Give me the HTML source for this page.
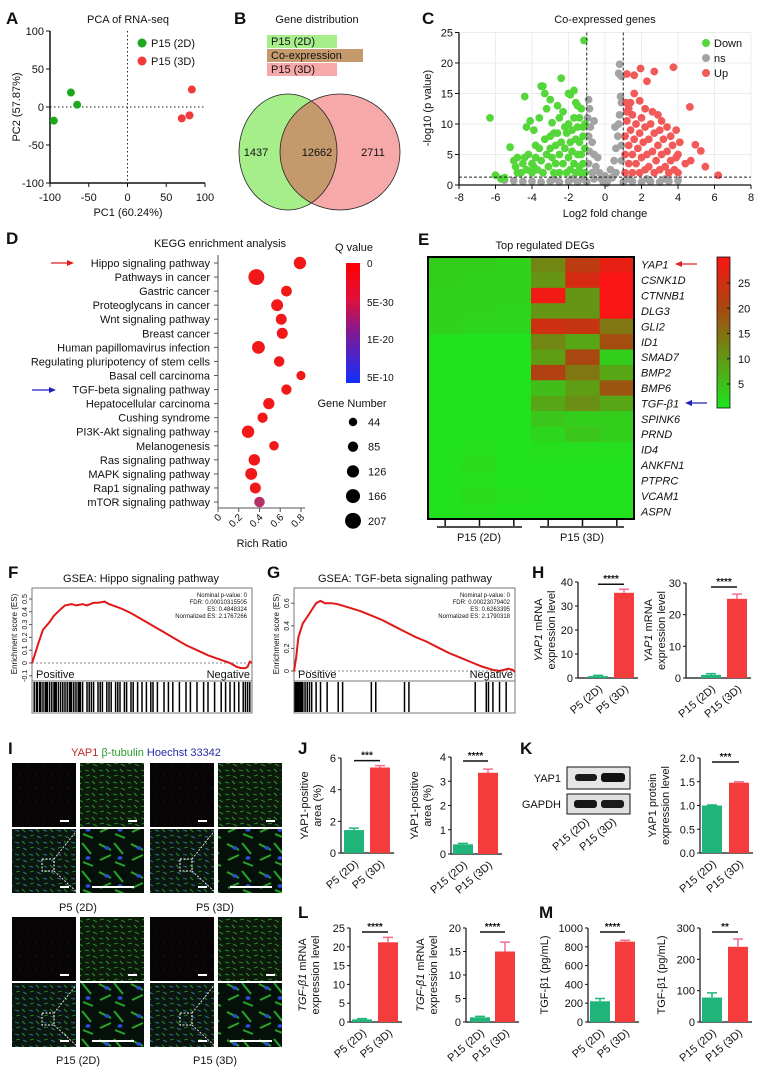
<!DOCTYPE html>
<html><head><meta charset="utf-8"><style>
html,body{margin:0;padding:0;background:#fff}
svg text{font-family:"Liberation Sans",sans-serif;fill:#111}
.lb{font-weight:bold;font-size:17px}
.t{font-size:11px}
.s{font-size:10px}
</style></head><body>
<svg id="fig" width="765" height="1072" xmlns="http://www.w3.org/2000/svg">
<defs>
<pattern id="cellsG" width="14" height="12" patternUnits="userSpaceOnUse">
<rect width="14" height="12" fill="#0c1a0c"/>
<path d="M1 2l4 1M8 1l3 3M2 8l4-1M9 8l4 2" stroke="#2f9f2f" stroke-width="0.9"/>
</pattern>
<pattern id="cellsM" width="14" height="12" patternUnits="userSpaceOnUse">
<rect width="14" height="12" fill="#0b1610"/>
<path d="M1 2l4 1M8 1l3 3M2 8l4-1M9 8l4 2" stroke="#2a922a" stroke-width="0.9"/>
<circle cx="4" cy="3" r="0.8" fill="#3355dd"/><circle cx="11" cy="9" r="0.8" fill="#3355dd"/>
</pattern>
<pattern id="cellsZ" width="32" height="28" patternUnits="userSpaceOnUse">
<rect width="32" height="28" fill="#06100a"/>
<path d="M3 4l12 6M18 3l9 11M4 20l11-5M19 22l10 4" stroke="#27a527" stroke-width="2"/>
<ellipse cx="11" cy="8" rx="2.5" ry="1.8" fill="#2a4fd8"/><ellipse cx="24" cy="18" rx="2.5" ry="1.8" fill="#2a4fd8"/>
</pattern>
<pattern id="dotsR" width="16" height="14" patternUnits="userSpaceOnUse">
<rect width="16" height="14" fill="#060404"/>
<circle cx="4" cy="4" r="0.6" fill="#5a1515"/><circle cx="12" cy="10" r="0.6" fill="#4a1212"/>
</pattern>
<clipPath id="vennClip"><ellipse cx="288" cy="152" rx="49" ry="58"/></clipPath>
<linearGradient id="qgrad" x1="0" y1="0" x2="0" y2="1">
<stop offset="0" stop-color="#ff0000"/><stop offset="0.3" stop-color="#e0103a"/><stop offset="0.6" stop-color="#7a1a9a"/><stop offset="1" stop-color="#1030ff"/>
</linearGradient>
<linearGradient id="hgrad" x1="0" y1="0" x2="0" y2="1">
<stop offset="0" stop-color="#fa1414"/><stop offset="0.33" stop-color="#aa4610"/><stop offset="0.66" stop-color="#649614"/><stop offset="1" stop-color="#1ee61e"/>
</linearGradient>
</defs>

<!-- Panel A -->
<g>
<text class="lb" x="6" y="24">A</text>
<text class="t" x="128" y="23" text-anchor="middle">PCA of RNA-seq</text>
<text class="t" x="128" y="216" text-anchor="middle">PC1 (60.24%)</text>
<text class="t" transform="translate(20,107) rotate(-90)" text-anchor="middle">PC2 (57.87%)</text>
<g id="pcaG"></g>
<circle cx="142" cy="43" r="4.5" fill="#1ea81e"/>
<text class="t" x="151" y="47">P15 (2D)</text>
<circle cx="142" cy="61" r="4.5" fill="#ee3a3a"/>
<text class="t" x="151" y="65">P15 (3D)</text>
</g>

<!-- Panel B -->
<g>
<text class="lb" x="234" y="24">B</text>
<text class="t" x="317" y="23" text-anchor="middle">Gene distribution</text>
<rect x="267" y="35" width="70" height="13" fill="#a6ee8a"/>
<text class="t" x="271" y="45">P15 (2D)</text>
<rect x="267" y="49" width="96" height="13" fill="#c49a6c"/>
<text class="t" x="271" y="59">Co-expression</text>
<rect x="267" y="63" width="70" height="13" fill="#f7a9a9"/>
<text class="t" x="271" y="73">P15 (3D)</text>
<ellipse cx="288" cy="152" rx="49" ry="58" fill="#a6ee8a"/>
<ellipse cx="340" cy="152" rx="60" ry="58" fill="#f7a9a9"/>
<ellipse cx="340" cy="152" rx="60" ry="58" fill="#c49a6c" clip-path="url(#vennClip)"/>
<ellipse cx="288" cy="152" rx="49" ry="58" fill="none" stroke="#222" stroke-width="0.8"/>
<ellipse cx="340" cy="152" rx="60" ry="58" fill="none" stroke="#222" stroke-width="0.8"/>
<text class="t" x="256" y="156" text-anchor="middle">1437</text>
<text class="t" x="317" y="156" text-anchor="middle">12662</text>
<text class="t" x="373" y="156" text-anchor="middle">2711</text>
</g>

<!-- Panel C -->
<g>
<text class="lb" x="422" y="24">C</text>
<text class="t" x="605" y="23" text-anchor="middle">Co-expressed genes</text>
<text class="t" x="605" y="217" text-anchor="middle">Log2 fold change</text>
<text class="t" transform="translate(431,108) rotate(-90)" text-anchor="middle">-log10 (p value)</text>
<g id="volG"></g>
<circle cx="706" cy="43" r="4" fill="#55d63a"/><text class="t" x="714" y="47">Down</text>
<circle cx="706" cy="58" r="4" fill="#a3a3a3"/><text class="t" x="714" y="62">ns</text>
<circle cx="706" cy="73" r="4" fill="#f25a5a"/><text class="t" x="714" y="77">Up</text>
</g>

<!-- Panel D -->
<g>
<text class="lb" x="6" y="244">D</text>
<text class="t" x="220" y="247" text-anchor="middle">KEGG enrichment analysis</text>
<text class="t" x="262" y="547" text-anchor="middle">Rich Ratio</text>
<g id="keggG"></g>
<path d="M51 263H70" stroke="#e02020" stroke-width="1.3"/><path d="M74 263l-7-3v6z" fill="#e02020"/>
<path d="M32 390H52" stroke="#2020c0" stroke-width="1.3"/><path d="M56 390l-7-3v6z" fill="#2020c0"/>
<text class="t" x="354" y="251" text-anchor="middle">Q value</text>
<rect x="346" y="263" width="14" height="120" fill="url(#qgrad)"/>
<text class="s" x="367" y="267">0</text><text class="s" x="367" y="306">5E-30</text><text class="s" x="367" y="343">1E-20</text><text class="s" x="367" y="381">5E-10</text>
<text class="t" x="352" y="407" text-anchor="middle">Gene Number</text>
<g id="gnG"></g>
</g>

<!-- Panel E -->
<g>
<text class="lb" x="418" y="245">E</text>
<text class="t" x="545" y="249" text-anchor="middle">Top regulated DEGs</text>
<g id="heatG"></g>
<rect x="717" y="257" width="13" height="151" fill="url(#hgrad)" stroke="#111" stroke-width="0.8"/>
<g id="hcbG"></g>
<path d="M697 264H679" stroke="#e02020" stroke-width="1.3"/><path d="M675 264l7-3v6z" fill="#e02020"/>
<path d="M707 403H689" stroke="#2020c0" stroke-width="1.3"/><path d="M685 403l7-3v6z" fill="#2020c0"/>
<path d="M437 527H522M540 527H624" stroke="#111" stroke-width="1.5"/>
<text class="t" x="479" y="541" text-anchor="middle">P15 (2D)</text>
<text class="t" x="582" y="541" text-anchor="middle">P15 (3D)</text>
</g>

<!-- Panels F/G -->
<g>
<text class="lb" x="8" y="578">F</text>
<text class="t" x="141" y="582" text-anchor="middle">GSEA: Hippo signaling pathway</text>
<g id="fG"></g>
</g>
<g>
<text class="lb" x="267" y="578">G</text>
<text class="t" x="405" y="582" text-anchor="middle">GSEA: TGF-beta signaling pathway</text>
<g id="gG"></g>
</g>

<text class="lb" x="532" y="578">H</text>
<g id="barsG"></g>

<!-- Panel I -->
<g>
<text class="lb" x="8" y="754">I</text>
<text class="t" x="146" y="756" text-anchor="middle"><tspan style="fill:#c0282a">YAP1</tspan> <tspan style="fill:#2a9a2a">β-tubulin</tspan> <tspan style="fill:#2a2aa8">Hoechst 33342</tspan></text>
<g id="imgG"></g>
<text class="t" x="78" y="911" text-anchor="middle">P5 (2D)</text>
<text class="t" x="215" y="911" text-anchor="middle">P5 (3D)</text>
<text class="t" x="78" y="1064" text-anchor="middle">P15 (2D)</text>
<text class="t" x="215" y="1064" text-anchor="middle">P15 (3D)</text>
</g>

<text class="lb" x="298" y="754">J</text>
<text class="lb" x="520" y="754">K</text>
<text class="lb" x="298" y="918">L</text>
<text class="lb" x="539" y="918">M</text>

<!-- Western blot -->
<g>
<rect x="567" y="767" width="63" height="22" fill="#e6e6e6" stroke="#111" stroke-width="1"/>
<rect x="567" y="794" width="63" height="20" fill="#e0e0e0" stroke="#111" stroke-width="1"/>
<rect x="575" y="774" width="22" height="7" rx="3" fill="#1a1a1a"/><rect x="601" y="773" width="24" height="9" rx="3" fill="#111"/>
<rect x="574" y="800" width="23" height="8" rx="3" fill="#151515"/><rect x="601" y="800" width="23" height="8" rx="3" fill="#1a1a1a"/>
<text class="t" x="561" y="782" text-anchor="end">YAP1</text>
<text class="t" x="561" y="808" text-anchor="end">GAPDH</text>
<text class="t" transform="translate(590,823) rotate(-40)" text-anchor="end">P15 (2D)</text>
<text class="t" transform="translate(617,823) rotate(-40)" text-anchor="end">P15 (3D)</text>
</g>
</svg>
<script>
const NS='http://www.w3.org/2000/svg';
function mk(tag,attrs,parent){const e=document.createElementNS(NS,tag);for(const k in attrs)e.setAttribute(k,attrs[k]);parent.appendChild(e);return e;}
function txt(s,attrs,parent){const e=mk('text',attrs,parent);e.textContent=s;return e;}

/* ---------- Panel A data ---------- */
const pcaGreenX=[-95,-73,-65], pcaGreenY=[-18,19,3];
const pcaRedX=[70,80,83], pcaRedY=[-15,-11,23];
const pcaTicks=[-100,-50,0,50,100];
(function(){
 const g=document.getElementById('pcaG');
 const X=v=>127.5+v*0.775, Y=v=>107-v*0.76;
 let l=mk('path',{d:`M${X(-100)} ${Y(100)}V${Y(-100)}H${X(100)}`,stroke:'#111','stroke-width':1.5,fill:'none'},g);
 
 
 mk('path',{d:`M${X(0)} ${Y(100)}V${Y(-100)}M${X(-100)} ${Y(0)}H${X(100)}`,stroke:'#222','stroke-dasharray':'1.5,2.5',fill:'none'},g);
 pcaTicks.forEach(t=>{
  mk('path',{d:`M${X(t)} ${Y(-100)}v4M${X(-100)} ${Y(t)}h-4`,stroke:'#111'},g);
  const a=txt(String(t),{x:X(t),y:201,'text-anchor':'middle',class:'t'},g);
  
  
  const b=txt(String(t),{x:X(-100)-6,y:Y(t)+4,'text-anchor':'end',class:'t'},g);
  
  
 });
 pcaGreenX.forEach((v,i)=>{const c=mk('circle',{cx:X(v),cy:Y(pcaGreenY[i]),r:4,fill:'#1ea81e'},g);
  
  });
 pcaRedX.forEach((v,i)=>{const c=mk('circle',{cx:X(v),cy:Y(pcaRedY[i]),r:4,fill:'#ee3a3a'},g);
  
  });
})();

/* ---------- Panel C data ---------- */
const volXTicks=[-8,-6,-4,-2,0,2,4,6,8];
const volYTicks=[0,5,10,15,20,25];
const downX=[-6.3,-6.0,-5.7,-5.5,-5.2,-5.0,-4.9,-4.8,-4.4,-4.3,-4.1,-3.9,-3.8,-3.6,-3.5,-3.4,-3.3,-3.2,-3.0,-2.9,-2.8,-2.6,-2.5,-2.4,-2.3,-2.2,-2.0,-1.9,-1.7,-1.6,-1.5,-1.4,-1.3,-1.15,-1.2,
 -4.6,-4.5,-4.3,-4.2,-4.0,-4.0,-3.8,-3.7,-3.6,-3.5,-3.4,-3.3,-3.2,-3.1,-3.0,-3.0,-2.9,-2.8,-2.7,-2.7,-2.6,-2.5,-2.5,-2.4,-2.3,-2.2,-2.1,-2.1,-2.0,-2.0,-1.9,-1.9,-1.8,-1.8,-1.7,-1.7,-1.6,-1.6,-1.5,-1.5,-1.4,-1.4,-1.3,-1.3,-1.2,-1.2,-1.1,-1.1,-1.1,-3.9,-4.4,-4.8];
const downY=[11,1.6,1.0,1.2,6.2,4.0,3.0,4.5,14.5,9.5,10.5,9.0,6.5,11.0,16.2,16.2,15.0,12.5,14.0,10.2,8.5,13.0,11.0,17.5,12.0,9.5,15.0,14.8,15.5,13.5,13.0,11.0,12.5,23.7,9.5,
 2.0,3.5,2.5,5.0,3.5,2.0,4.5,2.5,6.0,4.0,2.0,7.5,5.0,3.0,8.0,6.0,4.5,2.0,6.5,3.5,8.5,5.0,2.0,7.0,3.5,6.0,8.5,2.0,4.5,10.0,7.0,2.5,5.5,9.0,3.5,11.0,7.5,2.0,5.0,9.5,3.0,7.0,5.0,2.0,8.0,3.5,6.0,2.0,10.0,3.0,4.5,2.0];
const nsX=[-0.9,-0.85,-0.95,-0.8,-0.9,-0.7,-0.85,-0.6,-0.9,-0.5,-0.7,-0.3,-0.4,-0.2,0.0,0.2,0.3,0.5,0.6,0.7,0.75,0.8,0.9,0.85,0.9,0.75,0.8,0.9,0.9,0.6,0.4,-0.6,-1.0,-1.5,-2.0,-2.5,-3.0,-3.5,-4.0,-4.5,-5.0,-5.5,1.0,1.5,2.0,2.5,3.0,3.5,4.0,-1.2,-1.8,-2.8,1.3,2.3,3.3,0.1,-0.1,0.55,-0.6];
const nsY=[14.0,12.5,11.0,9.5,8.0,7.0,5.5,5.0,3.5,3.0,2.0,2.0,4.5,1.0,1.5,1.0,2.5,4.0,6.0,8.0,10.0,11.5,13.5,14.5,17.8,18.3,19.8,6.5,4.0,2.0,1.2,1.0,0.5,0.5,0.6,0.5,0.6,0.5,0.6,0.6,0.7,0.8,0.5,0.6,0.5,0.6,0.5,0.6,0.7,1.0,1.0,1.0,1.0,1.0,1.0,0.3,0.5,9.5,10.5];
const upX=[1.2,1.6,1.95,2.3,2.7,3.75,1.15,1.3,1.6,1.9,2.2,2.6,2.9,3.1,3.4,3.6,3.9,4.65,4.1,4.95,4.7,5.25,5.5,6.2,4.4,4.0,
 1.1,1.1,1.1,1.2,1.3,1.3,1.4,1.5,1.5,1.5,1.6,1.7,1.7,1.8,1.9,1.9,2.0,2.0,2.1,2.2,2.2,2.3,2.4,2.4,2.5,2.6,2.7,2.7,2.8,2.9,3.0,3.0,3.1,3.2,3.3,3.4,3.5,3.6,3.7,3.8,3.9,4.0,1.2,1.4];
const upY=[18.2,18.0,19.1,17.0,18.6,19.3,13.5,12.5,15.0,13.8,12.5,12.0,11.5,10.5,9.5,8.0,9.0,12.8,7.0,6.6,4.0,5.6,3.0,1.6,3.5,5.0,
 2.0,5.0,8.0,10.5,3.5,6.5,9.0,2.0,5.0,11.5,7.5,3.5,10.0,6.0,2.0,8.5,4.5,11.0,7.0,2.5,9.5,5.0,3.0,7.5,10.0,5.5,2.0,8.5,4.0,6.5,2.5,9.0,5.0,7.5,3.0,5.5,2.0,4.0,6.5,2.5,4.5,2.0,12.0,13.5];
(function(){
 const g=document.getElementById('volG');
 const X=v=>605+v*18.25, Y=v=>185-v*6.1;
 volYTicks.forEach(t=>{if(t>0)mk('path',{d:`M${X(-8)} ${Y(t)}H${X(8)}`,stroke:'#ececec'},g);});
 volXTicks.forEach(t=>{if(t!==-8)mk('path',{d:`M${X(t)} ${Y(25)}V${Y(0)}`,stroke:'#ececec'},g);});
 const ser=[[nsX,nsY,'#a3a3a3','volcano-point-ns'],[downX,downY,'#55d63a','volcano-point-down'],[upX,upY,'#f25a5a','volcano-point-up']];
 ser.forEach(([xs,ys,c,n])=>xs.forEach((v,i)=>{const p=mk('circle',{cx:X(v),cy:Y(ys[i]),r:3.9,fill:c},g);
  
  }));
 mk('path',{d:`M${X(-1)} ${Y(25)}V${Y(0)}M${X(1)} ${Y(25)}V${Y(0)}M${X(-8)} ${Y(1.3)}H${X(8)}`,stroke:'#222','stroke-dasharray':'3,2',fill:'none'},g);
 const ax=mk('path',{d:`M${X(-8)} ${Y(25)}V${Y(0)}H${X(8)}`,stroke:'#111','stroke-width':1.3,fill:'none'},g);
 
 
 volXTicks.forEach(t=>{mk('path',{d:`M${X(t)} ${Y(0)}v4`,stroke:'#111'},g);
  const a=txt(String(t),{x:X(t),y:201,'text-anchor':'middle',class:'t'},g);
  
  });
 volYTicks.forEach(t=>{mk('path',{d:`M${X(-8)} ${Y(t)}h-4`,stroke:'#111'},g);
  const a=txt(String(t),{x:X(-8)-6,y:Y(t)+4,'text-anchor':'end',class:'t'},g);
  
  });
})();

/* ---------- Panel D data ---------- */
const keggPaths=['Hippo signaling pathway','Pathways in cancer','Gastric cancer','Proteoglycans in cancer','Wnt signaling pathway','Breast cancer','Human papillomavirus infection','Regulating pluripotency of stem cells','Basal cell carcinoma','TGF-beta signaling pathway','Hepatocellular carcinoma','Cushing syndrome','PI3K-Akt signaling pathway','Melanogenesis','Ras signaling pathway','MAPK signaling pathway','Rap1 signaling pathway','mTOR signaling pathway'];
const keggRatio=[0.79,0.37,0.66,0.57,0.61,0.62,0.39,0.59,0.80,0.66,0.49,0.43,0.29,0.54,0.35,0.32,0.36,0.40];
const keggGenes=[130,207,95,120,100,100,140,90,60,85,105,85,130,70,110,120,100,90];
const keggQ=[0,0,0,0,0,0,0,0,0,0,0,0,0,0,0,0,0,0.3];
const keggXTicks=[0,0.2,0.4,0.6,0.8];
const geneLegend=[44,85,126,166,207];
(function(){
 const g=document.getElementById('keggG');
 const X=v=>218+v*103.7, Y=i=>263+i*14.06, R=n=>3.2+n*0.023;
 const ax=mk('path',{d:`M218 255V508H305`,stroke:'#555','stroke-width':1,fill:'none'},g);
 
 
 keggPaths.forEach((p,i)=>{mk('path',{d:`M218 ${Y(i)}h-4`,stroke:'#555'},g);
  const a=txt(p,{x:210,y:Y(i)+4,'text-anchor':'end',class:'t','font-size':'10.5'},g);
  
  
  const q=keggQ[i];const col=q>0?'#b8306a':'#f01818';
  const c=mk('circle',{cx:X(keggRatio[i]),cy:Y(i),r:R(keggGenes[i]),fill:col},g);
  
  });
 keggXTicks.forEach(t=>{mk('path',{d:`M${X(t)} 508v4`,stroke:'#555'},g);
  const a=txt(String(t),{transform:`translate(${X(t)+4},518) rotate(-45)`,'text-anchor':'end',class:'s'},g);
  
  });
 const gg=document.getElementById('gnG');
 geneLegend.forEach((n,i)=>{const y=422+i*24.7;
  const c=mk('circle',{cx:353,cy:y,r:R(n),fill:'#000'},gg);
  
  
  const a=txt(String(n),{x:368,y:y+4,class:'t'},gg);
  
  });
})();

/* ---------- Panel E data ---------- */
const heatGenes=['YAP1','CSNK1D','CTNNB1','DLG3','GLI2','ID1','SMAD7','BMP2','BMP6','TGF-β1','SPINK6','PRND','ID4','ANKFN1','PTPRC','VCAM1','ASPN'];
const heatVals=[
 [3,3,2.5,12,22,27],[3,2.5,2.5,10,25,29],[2.5,2.5,2.5,28,10,29],[2.5,2.5,2,10,10,29],[2.5,2,2,24,23,14],
 [0.5,0.5,0.5,12,8,19],[0.5,0.5,0.5,9,20,3],[0.5,0.5,0.5,21,14,8],[0.5,0.5,0.5,5,9,18],[0.5,0.5,0.5,8,11,8],
 [0.5,0.5,0.5,4,3,3],[0.5,0.5,0.5,2,4,3],[0.5,1,0.5,1,1,1],[0.5,1.5,0.5,0.5,0.5,0.5],[0.5,1,0.5,0.5,0.5,0.5],[0.5,1.5,1,0.5,0.5,0.5],[0.5,1,0.5,0.5,0.5,0.5]];
const heatTicks=[5,10,15,20,25];
function heatColor(v){const st=[[0,30,230,30],[10,100,150,20],[20,170,70,16],[29,250,20,20]];
 v=Math.max(0,Math.min(29,v));for(let i=0;i<3;i++){const a=st[i],b=st[i+1];if(v<=b[0]){const t=(v-a[0])/(b[0]-a[0]);
 return `rgb(${Math.round(a[1]+t*(b[1]-a[1]))},${Math.round(a[2]+t*(b[2]-a[2]))},${Math.round(a[3]+t*(b[3]-a[3]))})`;}}}
(function(){
 const g=document.getElementById('heatG');
 const x0=428,y0=257,cw=206/6,ch=262/17;
 heatVals.forEach((row,r)=>{row.forEach((v,c)=>{const e=mk('rect',{x:x0+c*cw,y:y0+r*ch,width:cw+0.5,height:ch+0.5,fill:heatColor(v)},g);
   
   });
  const a=txt(heatGenes[r],{x:641,y:y0+r*ch+ch/2+4,class:'t','font-style':'italic','font-size':'10.5'},g);
  
  });
 mk('rect',{x:x0,y:y0,width:206,height:262,fill:'none',stroke:'#000','stroke-width':2},g);
 for(let c=0;c<6;c++)mk('path',{d:`M${x0+c*cw+cw/2} 520v6`,stroke:'#111','stroke-width':1.5},g);
 const hb=document.getElementById('hcbG');
 heatTicks.forEach(t=>{const y=384-(t-5)*5.05;mk('path',{d:`M730 ${y}h-3`,stroke:'#111'},hb);
  const a=txt(String(t),{x:738,y:y+4,class:'t'},hb);
  
  });
})();

/* ---------- Panels F/G data ---------- */
const fCurveX=[0,0.01,0.03,0.05,0.08,0.1,0.13,0.15,0.18,0.2,0.23,0.25,0.28,0.3,0.33,0.35,0.4,0.45,0.5,0.55,0.6,0.65,0.7,0.75,0.8,0.85,0.9,0.93,0.95,0.97,0.98,0.99,1];
const fCurveES=[0,0.05,0.16,0.26,0.32,0.37,0.42,0.45,0.46,0.45,0.46,0.45,0.47,0.47,0.48,0.46,0.43,0.39,0.34,0.29,0.24,0.19,0.14,0.1,0.06,0.03,0,-0.03,-0.04,-0.04,-0.03,0.01,0];
const fYTicks=[-0.1,0,0.1,0.2,0.3,0.4,0.5];
const fHits=[0.01,0.02,0.025,0.035,0.04,0.05,0.06,0.065,0.07,0.08,0.09,0.1,0.105,0.11,0.12,0.13,0.14,0.15,0.16,0.17,0.175,0.18,0.19,0.2,0.21,0.215,0.22,0.23,0.25,0.26,0.27,0.28,0.3,0.31,0.32,0.34,0.35,0.36,0.38,0.39,0.4,0.42,0.43,0.45,0.46,0.48,0.5,0.52,0.54,0.55,0.57,0.6,0.62,0.64,0.67,0.7,0.72,0.75,0.78,0.8,0.83,0.86,0.88,0.9,0.92,0.94,0.96,0.97,0.98,0.99];
const fStats=['Nominal p-value: 0','FDR: 0.00010315505','ES: 0.4848324','Normalized ES: 2.1767266'];
const gCurveX=[0,0.01,0.02,0.04,0.06,0.08,0.1,0.12,0.14,0.17,0.2,0.25,0.3,0.35,0.4,0.45,0.5,0.55,0.6,0.65,0.7,0.75,0.8,0.85,0.9,0.93,0.95,0.97,0.99,1];
const gCurveES=[0,0.12,0.3,0.42,0.48,0.54,0.6,0.62,0.6,0.6,0.59,0.56,0.53,0.49,0.45,0.4,0.35,0.3,0.26,0.21,0.16,0.12,0.08,0.04,0.01,0,0.01,0.02,0.01,-0.01];
const gYTicks=[0,0.2,0.4,0.6];
const gHits=[0.005,0.01,0.015,0.02,0.025,0.03,0.035,0.04,0.05,0.06,0.07,0.08,0.1,0.12,0.15,0.2,0.22,0.35,0.37,0.5,0.52,0.82,0.87,0.88,0.9,0.93,0.96];
const gStats=['Nominal p-value: 0','FDR: 0.00023079402','ES: 0.6263395','Normalized ES: 2.1790318'];
function gsea(gid,x0,x1,zeroY,perUnit,cx,ces,ticks,hits,stats,nm){
 const g=document.getElementById(gid);
 const X=f=>x0+f*(x1-x0), Y=v=>zeroY-v*perUnit;
 mk('rect',{x:x0,y:588,width:x1-x0,height:125,fill:'none',stroke:'#777','stroke-width':1},g);
 mk('path',{d:`M${x0} 681H${x1}`,stroke:'#777'},g);
 mk('path',{d:`M${x0} ${Y(0)}H${x1}`,stroke:'#888','stroke-dasharray':'2,2'},g);
 ticks.forEach(t=>{mk('path',{d:`M${x0} ${Y(t)}h-3`,stroke:'#555'},g);
  const a=txt(String(t),{transform:`translate(${x0-5},${Y(t)}) rotate(-90)`,'text-anchor':'middle','font-size':'7'},g);
  
  });
 const yl=txt('Enrichment score (ES)',{transform:`translate(${x0-15},634) rotate(-90)`,'text-anchor':'middle','font-size':'8'},g);
 
 
 const d=cx.map((f,i)=>(i?'L':'M')+X(f).toFixed(1)+' '+Y(ces[i]).toFixed(1)).join('');
 const p=mk('path',{d:d,stroke:'#e01818','stroke-width':2,fill:'none'},g);
 
 
 hits.forEach(h=>{const l=mk('path',{d:`M${X(h)} 682V712`,stroke:'#000','stroke-width':1.5},g);
  
  });
 stats.forEach((s,i)=>txt(s,{x:x1-5,y:597+i*7,'text-anchor':'end','font-size':'6'},g));
 const a=txt('Positive',{x:x0+4,y:678,class:'t','font-size':'12'},g);
 
 
 const b=txt('Negative',{x:x1-2,y:678,'text-anchor':'end',class:'t','font-size':'12'},g);
 
 
}
gsea('fG',32,252,663,128,fCurveX,fCurveES,fYTicks,fHits,fStats,'gsea-hippo');
gsea('gG',294,515,671,113,gCurveX,gCurveES,gYTicks,gHits,gStats,'gsea-tgf');

/* ---------- Bar chart data ---------- */
const p5Cats=['P5 (2D)','P5 (3D)'];
const p15Cats=['P15 (2D)','P15 (3D)'];
const h1Vals=[0.8,35.5], h1Err=[0.3,1.5], h1Ticks=[0,10,20,30,40];
const h2Vals=[1.0,25.0], h2Err=[0.4,1.5], h2Ticks=[0,10,20,30];
const j1Vals=[1.45,5.4], j1Err=[0.12,0.12], j1Ticks=[0,2,4,6];
const j2Vals=[0.4,3.35], j2Err=[0.04,0.15], j2Ticks=[0,1,2,3,4];
const k2Vals=[1.0,1.48], k2Err=[0.01,0.02], k2Ticks=[0,0.5,1.0,1.5,2.0];
const l1Vals=[0.7,21.2], l1Err=[0.2,1.3], l1Ticks=[0,5,10,15,20,25];
const l2Vals=[1.0,15.0], l2Err=[0.2,2.0], l2Ticks=[0,5,10,15,20];
const m1Vals=[220,855], m1Err=[30,15], m1Ticks=[0,200,400,600,800,1000];
const m2Vals=[78,240], m2Err=[15,25], m2Ticks=[0,100,200,300];
function bar(nm,c,cats,vals,errs,ticks,sig,dec){
 const g=document.getElementById('barsG');
 const max=ticks[ticks.length-1];
 const Y=v=>c.y0-v/max*(c.y0-c.yt);
 const ax=mk('path',{d:`M${c.ax} ${c.yt}V${c.y0}H${c.bx[1]+14}`,stroke:'#111','stroke-width':1.2,fill:'none'},g);
 
 
 ticks.forEach(t=>{mk('path',{d:`M${c.ax} ${Y(t)}h-3`,stroke:'#111'},g);
  const a=txt(dec?t.toFixed(1):String(t),{x:c.ax-5,y:Y(t)+4,'text-anchor':'end',class:'t','font-size':'11.5'},g);
  
  });
 const cols=['#1fb57a','#f43c3c'];
 vals.forEach((v,i)=>{const x=c.bx[i];
  const b=mk('rect',{x:x-10,y:Y(v),width:20,height:c.y0-Y(v),fill:cols[i]},g);
  
  
  const e=mk('path',{d:`M${x} ${Y(v)}V${Y(v+errs[i])}M${x-5} ${Y(v+errs[i])}h10`,stroke:i?'#f07090':'#1fb57a','stroke-width':1.5,fill:'none'},g);
  
  
  const l=txt(cats[i],{transform:`translate(${x+5},${c.y0+12}) rotate(-40)`,'text-anchor':'end',class:'t','font-size':'11.5'},g);
  
  });
 const sy=Math.min(Y(vals[1]+errs[1]),Y(vals[0]+errs[0]))-5;
 const syy=Math.max(c.yt+2,Math.min(sy,c.yt+4));
 const s=mk('path',{d:`M${c.bx[0]} ${syy}H${c.bx[1]}`,stroke:'#111','stroke-width':1.5},g);
 
 
 const st=txt(sig,{x:(c.bx[0]+c.bx[1])/2,y:syy-2,'text-anchor':'middle','font-size':'10','font-weight':'bold'},g);
 
 
 const my=(c.y0+c.yt)/2;
 c.yl.forEach((line,i)=>{const t=mk('text',{transform:`translate(${c.lx[i]},${my}) rotate(-90)`,'text-anchor':'middle',class:'t','font-size':'12'},g);
  t.innerHTML=line;
  
  });
}
const yapM=['<tspan font-style="italic">YAP1</tspan> mRNA','expression level'];
const tgfM=['<tspan font-style="italic">TGF-β1</tspan> mRNA','expression level'];
bar('h1-chart',{ax:578,y0:678,yt:582,bx:[598,624],yl:yapM,lx:[542,555]},p5Cats,h1Vals,h1Err,h1Ticks,'****');
bar('h2-chart',{ax:686,y0:678,yt:583,bx:[711,737],yl:yapM,lx:[652,665]},p15Cats,h2Vals,h2Err,h2Ticks,'****');
bar('j1-chart',{ax:341,y0:853,yt:758,bx:[354,380],yl:['YAP1-positive','area (%)'],lx:[308,321]},p5Cats,j1Vals,j1Err,j1Ticks,'***');
bar('j2-chart',{ax:451,y0:854,yt:757,bx:[463,488],yl:['YAP1-positive','area (%)'],lx:[418,431]},p15Cats,j2Vals,j2Err,j2Ticks,'****');
bar('k2-chart',{ax:700,y0:853,yt:758,bx:[712,739],yl:['YAP1 protein','expression level'],lx:[656,669]},p15Cats,k2Vals,k2Err,k2Ticks,'***',true);
bar('l1-chart',{ax:350,y0:1022,yt:928,bx:[362,388],yl:tgfM,lx:[306,319]},p5Cats,l1Vals,l1Err,l1Ticks,'****');
bar('l2-chart',{ax:466,y0:1022,yt:928,bx:[480,505],yl:tgfM,lx:[424,437]},p15Cats,l2Vals,l2Err,l2Ticks,'****');
bar('m1-chart',{ax:588,y0:1022,yt:928,bx:[600,625],yl:['TGF-β1 (pg/mL)'],lx:[548]},p5Cats,m1Vals,m1Err,m1Ticks,'****');
bar('m2-chart',{ax:700,y0:1022,yt:928,bx:[712,738],yl:['TGF-β1 (pg/mL)'],lx:[665]},p15Cats,m2Vals,m2Err,m2Ticks,'**');

/* ---------- Panel I images ---------- */
(function(){
 const g=document.getElementById('imgG');
 const groups=[[12,763,'p5-2d'],[150,763,'p5-3d'],[12,917,'p15-2d'],[150,917,'p15-3d']];
 groups.forEach(([gx,gy,n])=>{
  const cells=[[0,0,'url(#dotsR)','red-channel'],[68,0,'url(#cellsG)','green-channel'],[0,66,'url(#cellsM)','merged'],[68,66,'url(#cellsZ)','zoomed-merged']];
  cells.forEach(([dx,dy,f,nm])=>{const r=mk('rect',{x:gx+dx,y:gy+dy,width:64,height:64,fill:f},g);
   
   
   mk('path',{d:`M${gx+dx+(nm==='zoomed-merged'?12:48)} ${gy+dy+58}h${nm==='zoomed-merged'?42:9}`,stroke:'#fff','stroke-width':2},g);});
  mk('rect',{x:gx+30,y:gy+96,width:12,height:12,fill:'none',stroke:'#fff','stroke-dasharray':'2,1.5'},g);
  mk('path',{d:`M${gx+42} ${gy+96}L${gx+66} ${gy+66}M${gx+42} ${gy+108}L${gx+66} ${gy+130}`,stroke:'#fff','stroke-dasharray':'2,1.5','stroke-width':0.8},g);
 });
})();
</script>
</body></html>
